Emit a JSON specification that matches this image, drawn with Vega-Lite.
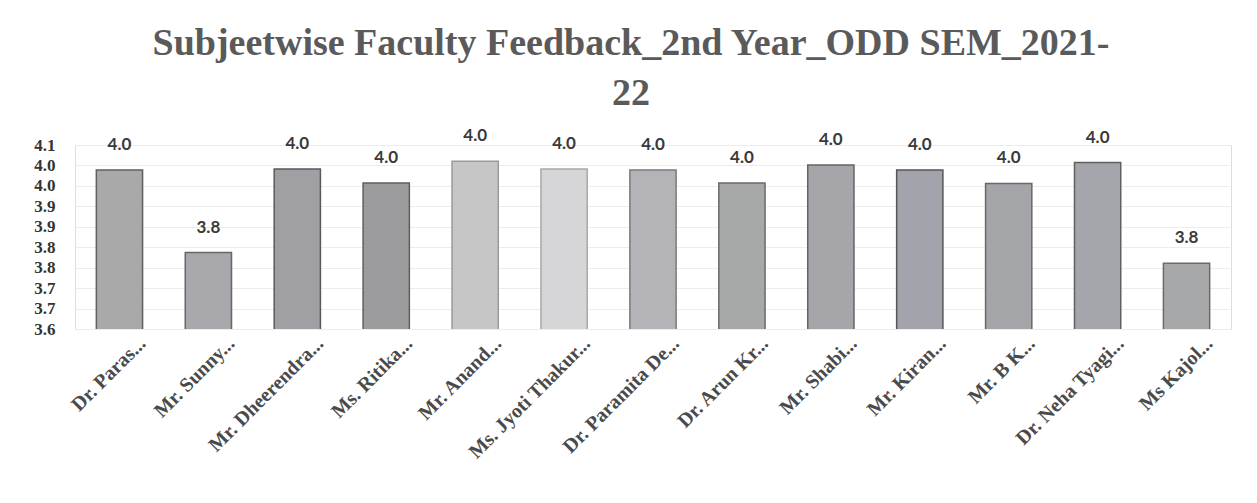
{
  "$schema": "https://vega.github.io/schema/vega-lite/v6.json",
  "width": 1156,
  "height": 184,
  "autosize": {"type": "none"},
  "padding": {"left": 75, "top": 145, "right": 26, "bottom": 174},
  "background": "white",
  "title": {
    "text": ["Subjeetwise Faculty Feedback_2nd Year_ODD SEM_2021-", "22"],
    "font": "Liberation Serif",
    "fontSize": 38,
    "fontWeight": "bold",
    "color": "#5a5a5a",
    "lineHeight": 50,
    "anchor": "middle",
    "frame": "group",
    "dx": -22,
    "offset": 14
  },
  "data": {
    "values": [
      {"name": "Dr. Paras...", "score": 3.989},
      {"name": "Mr. Sunny...", "score": 3.787},
      {"name": "Mr. Dheerendra...", "score": 3.991},
      {"name": "Ms. Ritika...", "score": 3.957},
      {"name": "Mr. Anand...", "score": 4.010},
      {"name": "Ms. Jyoti Thakur...", "score": 3.991},
      {"name": "Dr. Paramita De...", "score": 3.989},
      {"name": "Dr. Arun Kr...", "score": 3.957},
      {"name": "Mr. Shabi...", "score": 4.001},
      {"name": "Mr. Kiran...", "score": 3.989},
      {"name": "Mr. B K...", "score": 3.956},
      {"name": "Dr. Neha Tyagi...", "score": 4.007},
      {"name": "Ms Kajol...", "score": 3.761}
    ]
  },
  "encoding": {
    "x": {
      "field": "name",
      "type": "nominal",
      "sort": null,
      "scale": {"paddingInner": 0.48, "paddingOuter": 0.24},
      "axis": {
        "title": null,
        "domain": false,
        "ticks": false,
        "labelAngle": -45,
        "labelAlign": "right",
        "labelBaseline": "top",
        "labelFont": "Liberation Serif",
        "labelFontSize": 20,
        "labelFontWeight": "bold",
        "labelColor": "#4a4a4a",
        "labelPadding": 4,
        "labelOffset": 16,
        "labelLimit": 300
      }
    },
    "y": {
      "field": "score",
      "type": "quantitative",
      "scale": {"domain": [3.6, 4.05], "zero": false, "nice": false},
      "axis": {
        "title": null,
        "values": [3.6, 3.65, 3.7, 3.75, 3.8, 3.85, 3.9, 3.95, 4.0, 4.05],
        "labelExpr": "format(datum.value + 0.001, '.1f')",
        "domain": false,
        "ticks": false,
        "grid": true,
        "gridColor": "#ececec",
        "labelFont": "Liberation Serif",
        "labelFontSize": 17,
        "labelFontWeight": "bold",
        "labelColor": "#333333",
        "labelPadding": 20
      }
    }
  },
  "layer": [
    {
      "mark": {"type": "bar", "strokeWidth": 1.5, "clip": true},
      "encoding": {
        "color": {
          "field": "name",
          "type": "nominal",
          "sort": null,
          "legend": null,
          "scale": {
            "range": ["#a9a9a9", "#a8a8ad", "#a0a0a4", "#9c9c9e", "#c6c6c6", "#d6d6d9", "#b4b3b8", "#a7a9a8", "#a6a5aa", "#a2a3ab", "#a4a5a8", "#a5a6ab", "#a6a8aa"]
          }
        },
        "stroke": {
          "field": "name",
          "type": "nominal",
          "sort": null,
          "legend": null,
          "scale": {
            "range": ["#606060", "#666666", "#5a5a5a", "#5e5e5e", "#9a9a9a", "#a8a8a8", "#7a7a7a", "#6a6a6a", "#646464", "#555555", "#686868", "#606060", "#6a6a6a"]
          }
        }
      }
    },
    {
      "mark": {
        "type": "text",
        "baseline": "bottom",
        "dy": -16,
        "font": "Lato",
        "fontSize": 17,
        "fontWeight": "bold",
        "color": "#3a3a3a"
      },
      "encoding": {
        "text": {"field": "score", "type": "quantitative", "format": ".1f"}
      }
    }
  ]
}
